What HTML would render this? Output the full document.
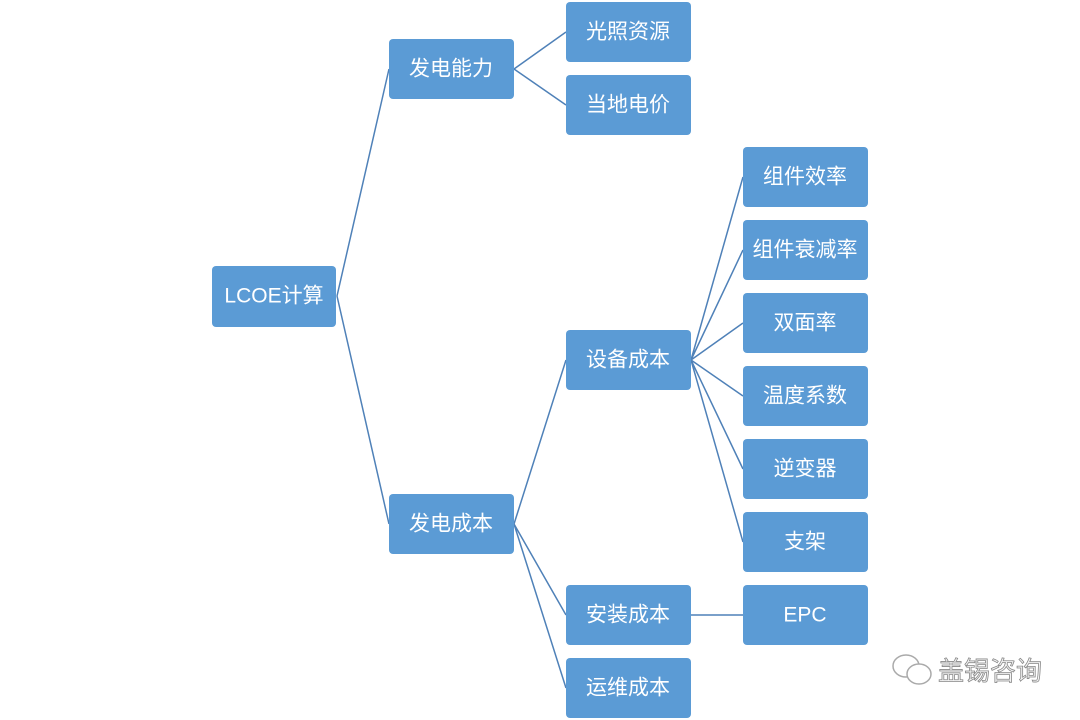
<!DOCTYPE html>
<html><head><meta charset="utf-8"><style>
body{margin:0;background:#fff;width:1080px;height:720px;overflow:hidden}
svg{display:block}
text{font-family:"Liberation Sans","Noto Sans CJK SC",sans-serif;font-size:21px;fill:#fff;text-anchor:middle;dominant-baseline:central}
</style></head><body>
<svg width="1080" height="720" viewBox="0 0 1080 720">
<g stroke="#4f81b8" stroke-width="1.5" fill="none">
<path d="M337 296 L389 69 M337 296 L389 524"/>
<path d="M514 69 L566 32 M514 69 L566 105"/>
<path d="M514 524 L566 360 M514 524 L566 615 M514 524 L566 688"/>
<path d="M691 360 L743 177 M691 360 L743 250 M691 360 L743 323 M691 360 L743 396 M691 360 L743 469 M691 360 L743 542"/>
<path d="M691 615 L743 615"/>
</g>
<g fill="#5b9bd5">
<rect x="212" y="266" width="124" height="61" rx="4"/>
<rect x="389" y="39" width="125" height="60" rx="4"/>
<rect x="389" y="494" width="125" height="60" rx="4"/>
<rect x="566" y="2" width="125" height="60" rx="4"/>
<rect x="566" y="75" width="125" height="60" rx="4"/>
<rect x="566" y="330" width="125" height="60" rx="4"/>
<rect x="566" y="585" width="125" height="60" rx="4"/>
<rect x="566" y="658" width="125" height="60" rx="4"/>
<rect x="743" y="147" width="125" height="60" rx="4"/>
<rect x="743" y="220" width="125" height="60" rx="4"/>
<rect x="743" y="293" width="125" height="60" rx="4"/>
<rect x="743" y="366" width="125" height="60" rx="4"/>
<rect x="743" y="439" width="125" height="60" rx="4"/>
<rect x="743" y="512" width="125" height="60" rx="4"/>
<rect x="743" y="585" width="125" height="60" rx="4"/>
</g>
<text x="274" y="296">LCOE计算</text>
<text x="451" y="69">发电能力</text>
<text x="451" y="524">发电成本</text>
<text x="628" y="32">光照资源</text>
<text x="628" y="105">当地电价</text>
<text x="628" y="360">设备成本</text>
<text x="628" y="615">安装成本</text>
<text x="628" y="688">运维成本</text>
<text x="805" y="177">组件效率</text>
<text x="805" y="250">组件衰减率</text>
<text x="805" y="323">双面率</text>
<text x="805" y="396">温度系数</text>
<text x="805" y="469">逆变器</text>
<text x="805" y="542">支架</text>
<text x="805" y="615">EPC</text>
<g fill="#fff" stroke="#aaa" stroke-width="1.5">
<ellipse cx="906" cy="666" rx="13" ry="11"/>
<ellipse cx="919" cy="674" rx="12" ry="10"/>
</g>
<text x="990" y="671" style="fill:#f4f4f4;stroke:#888;stroke-width:0.8;font-size:26px">盖锡咨询</text>
</svg>
</body></html>
